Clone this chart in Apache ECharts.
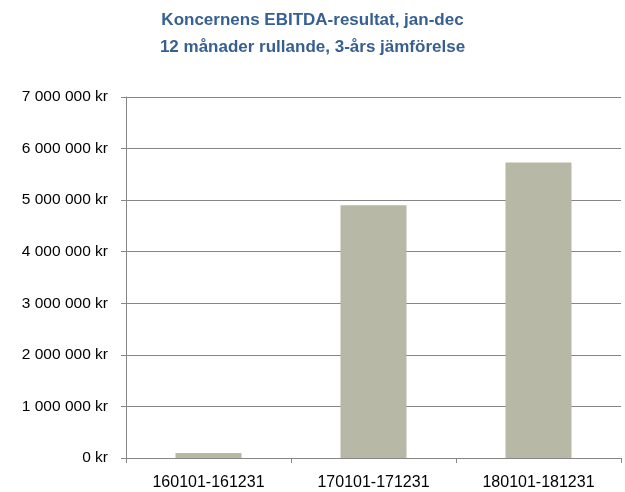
<!DOCTYPE html>
<html>
<head>
<meta charset="utf-8">
<script src="https://cdn.jsdelivr.net/npm/echarts@6/dist/echarts.min.js"></script>
<style>html,body{margin:0;padding:0;background:#fff}#c{width:625px;height:492px}</style>
</head>
<body>
<div id="c"></div>
<script>
const titleLines = ["Koncernens EBITDA-resultat, jan-dec", "12 månader rullande, 3-års jämförelse"];
const categories = ["160101-161231", "170101-171231", "180101-181231"];
const ebitda = [95000, 4900000, 5730000];
const yMin = 0, yMax = 7000000, yStep = 1000000;

function fmtKr(v) {
  return String(Math.round(v)).replace(/\B(?=(\d{3})+(?!\d))/g, " ") + " kr";
}

const chart = echarts.init(document.getElementById('c'), null, {renderer: 'canvas'});
chart.setOption({
  animation: false,
  backgroundColor: '#fff',
  title: {
    text: titleLines.join('\n'),
    left: 'center',
    top: 2,
    textStyle: {
      fontFamily: 'Liberation Sans',
      fontWeight: 'bold',
      fontSize: 17,
      lineHeight: 27,
      color: '#376092'
    }
  },
  grid: {left: 126, right: 4, top: 97, bottom: 34, containLabel: false},
  xAxis: {
    type: 'category',
    data: categories,
    axisLine: {lineStyle: {color: '#868686', width: 1}},
    axisTick: {show: true, alignWithLabel: false, length: 5, lineStyle: {color: '#868686'}},
    axisLabel: {fontFamily: 'Liberation Sans', fontSize: 16, color: '#000', margin: 17}
  },
  yAxis: {
    type: 'value',
    min: yMin, max: yMax, interval: yStep,
    axisLine: {show: true, lineStyle: {color: '#868686', width: 1}},
    axisTick: {show: true, length: 5, lineStyle: {color: '#868686'}},
    splitLine: {show: true, lineStyle: {color: '#868686', width: 1}},
    axisLabel: {fontFamily: 'Liberation Sans', fontSize: 15.5, color: '#000', margin: 18, formatter: fmtKr}
  },
  series: [{
    type: 'bar',
    data: ebitda,
    barWidth: '40%',
    itemStyle: {color: '#b8b8a6'}
  }]
});
</script>
</body>
</html>
